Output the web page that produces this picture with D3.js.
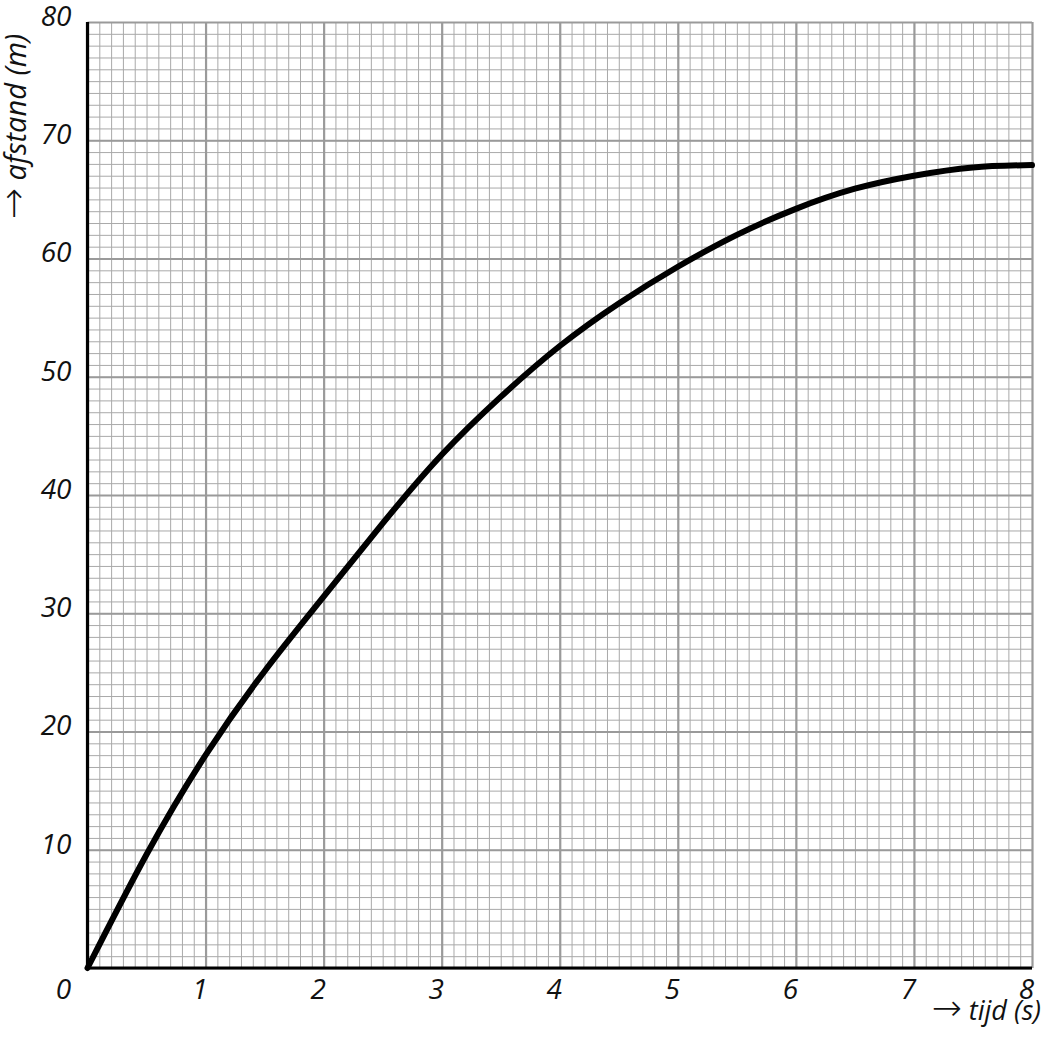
<!DOCTYPE html>
<html>
<head>
<meta charset="utf-8">
<script src="https://cdn.jsdelivr.net/npm/d3@7"></script>
<style>
  html, body { margin: 0; padding: 0; background: #fff; }
  svg text { font-family: "Open Sans", "DejaVu Sans", sans-serif; font-style: italic; fill: #111; }
</style>
</head>
<body>
<svg id="chart" width="1044" height="1041"></svg>
<script>
// ---- data ----
const tijd    = [0, 0.5, 1, 1.5, 2, 2.5, 3, 3.5, 4, 4.5, 5, 5.5, 6, 6.5, 7, 7.5, 8];
const afstand = [0, 9.6, 18.0, 25.1, 31.4, 37.6, 43.4, 48.3, 52.6, 56.2, 59.3, 62.0, 64.2, 65.9, 67.0, 67.7, 67.9];
const xTicks = [1, 2, 3, 4, 5, 6, 7, 8];
const yTicks = [10, 20, 30, 40, 50, 60, 70, 80];
const arrow = "\u2192";
const xTitle = "tijd (s)";
const yTitle = "afstand (m)";
const originLabel = "0";

// ---- layout ----
const svg = d3.select("#chart");
const x = d3.scaleLinear().domain([0, 8]).range([87.5, 1032]);
const y = d3.scaleLinear().domain([0, 80]).range([968, 22]);
const W = x(8) - x(0), H = y(0) - y(80);

const minorX = d3.range(0, 81).map(d => d / 10);
const minorY = d3.range(0, 81);
const majorX = d3.range(0, 9);
const majorY = d3.range(0, 81, 10);

// minor grid
svg.append("g").attr("transform", `translate(0,${y(0)})`)
  .call(d3.axisBottom(x).tickValues(minorX).tickSize(-H).tickFormat(""))
  .call(g => g.select(".domain").remove())
  .call(g => g.selectAll("line").attr("stroke", "#a9a9a9").attr("stroke-width", 1));
svg.append("g").attr("transform", `translate(${x(0)},0)`)
  .call(d3.axisLeft(y).tickValues(minorY).tickSize(-W).tickFormat(""))
  .call(g => g.select(".domain").remove())
  .call(g => g.selectAll("line").attr("stroke", "#a9a9a9").attr("stroke-width", 1));

// major grid
svg.append("g").attr("transform", `translate(0,${y(0)})`)
  .call(d3.axisBottom(x).tickValues(majorX).tickSize(-H).tickFormat(""))
  .call(g => g.select(".domain").remove())
  .call(g => g.selectAll("line").attr("stroke", "#9a9a9a").attr("stroke-width", 2.2));
svg.append("g").attr("transform", `translate(${x(0)},0)`)
  .call(d3.axisLeft(y).tickValues(majorY).tickSize(-W).tickFormat(""))
  .call(g => g.select(".domain").remove())
  .call(g => g.selectAll("line").attr("stroke", "#9a9a9a").attr("stroke-width", 2.2));

// black axes
svg.append("line").attr("x1", x(0)).attr("x2", x(0)).attr("y1", y(80)).attr("y2", y(0))
  .attr("stroke", "#000").attr("stroke-width", 3.2);
svg.append("line").attr("x1", x(0)).attr("x2", x(8)).attr("y1", y(0)).attr("y2", y(0))
  .attr("stroke", "#000").attr("stroke-width", 3.2);

// tick labels
const xAx = svg.append("g").attr("transform", `translate(0,${y(0)})`)
  .call(d3.axisBottom(x).tickValues(xTicks).tickSize(0).tickFormat(d3.format("d")));
xAx.select(".domain").remove();
xAx.selectAll("text").attr("font-size", 28).attr("dx", -6).attr("dy", 0).attr("y", 31)
  .attr("font-family", "Open Sans").attr("font-style", "italic").attr("fill", "#111");

const yAx = svg.append("g").attr("transform", `translate(${x(0)},0)`)
  .call(d3.axisLeft(y).tickValues(yTicks).tickSize(0).tickFormat(d3.format("d")));
yAx.select(".domain").remove();
yAx.selectAll("text").attr("font-size", 28).attr("x", -16).attr("dy", "0.12em")
  .attr("font-family", "Open Sans").attr("font-style", "italic").attr("fill", "#111");

svg.append("text").attr("x", x(0) - 24).attr("y", y(0) + 31).attr("text-anchor", "middle")
  .attr("font-size", 28).text(originLabel);

// axis titles
const xt = svg.append("text").attr("x", 1041).attr("y", 1020).attr("text-anchor", "end")
  .attr("font-size", 27);
xt.append("tspan").attr("font-family", "DejaVu Sans").attr("font-style", "normal")
  .attr("font-weight", 200).attr("font-size", 36).text(arrow);
xt.append("tspan").text(" " + xTitle);

const yt = svg.append("text").attr("transform", "translate(26,219) rotate(-90)").attr("text-anchor", "start")
  .attr("font-size", 29);
yt.append("tspan").attr("font-family", "DejaVu Sans").attr("font-style", "normal")
  .attr("font-weight", 200).attr("font-size", 37).text(arrow);
yt.append("tspan").text(" " + yTitle);

// curve
const pts = tijd.map((t, i) => [t, afstand[i]]);
svg.append("path").datum(pts)
  .attr("fill", "none").attr("stroke", "#000").attr("stroke-width", 6)
  .attr("stroke-linecap", "round").attr("stroke-linejoin", "round")
  .attr("d", d3.line().x(d => x(d[0])).y(d => y(d[1])).curve(d3.curveNatural));
</script>
</body>
</html>
